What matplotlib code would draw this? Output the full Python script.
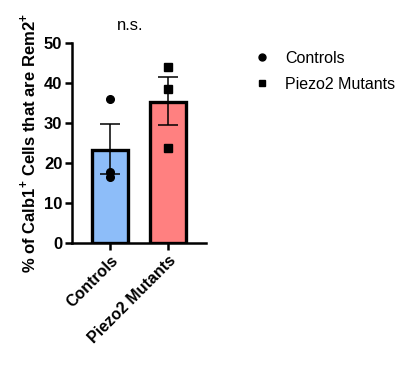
import numpy as np
import matplotlib
matplotlib.use('Agg')
import matplotlib.pyplot as plt
from matplotlib.lines import Line2D

plt.rcParams['font.family'] = ['Liberation Sans', 'DejaVu Sans']
plt.rcParams['mathtext.fontset'] = 'custom'
plt.rcParams['mathtext.rm'] = 'Liberation Sans:bold'
plt.rcParams['mathtext.bf'] = 'Liberation Sans:bold'

# Dados
grupos = ['Controls', 'Piezo2 Mutants']
medias = [23.3, 35.4]
erros_sup = [29.9, 41.7]
erros_inf = [17.3, 29.5]
pontos_controls = [36.2, 17.8, 16.5]
pontos_mutants = [44.2, 38.7, 23.8]
cores = ['#8DBDF9', '#FF8080']

fig = plt.figure(figsize=(4.14, 3.84), dpi=100)
ax = fig.add_axes([0.174, 0.366, 0.324, 0.521])

x = np.arange(len(grupos))
ax.bar(x, medias, width=0.62, color=cores, edgecolor='black', linewidth=2.4, zorder=2)

yerr = [np.array(medias) - np.array(erros_inf), np.array(erros_sup) - np.array(medias)]
ax.errorbar(x, medias, yerr=yerr, fmt='none', ecolor='black', elinewidth=1.1,
            capsize=7, capthick=1.1, zorder=3)

ax.plot([x[0]] * len(pontos_controls), pontos_controls, 'o', color='black', markersize=5.5, zorder=4)
ax.plot([x[1]] * len(pontos_mutants), pontos_mutants, 's', color='black', markersize=5.5, zorder=4)

ax.set_xlim(-0.66, 1.66)
ax.set_ylim(0, 50)
ax.set_yticks([0, 10, 20, 30, 40, 50])
ax.set_xticks(x)
ax.set_xticklabels(grupos, rotation=45, ha='right', rotation_mode='anchor',
                   fontweight='bold', fontsize=11.5)
for lbl in ax.get_yticklabels():
    lbl.set_fontweight('bold')
    lbl.set_fontsize(12)

for s in ['top', 'right']:
    ax.spines[s].set_visible(False)
for s in ['left', 'bottom']:
    ax.spines[s].set_linewidth(1.8)
ax.tick_params(axis='both', width=1.8, length=5, pad=2)

ax.set_ylabel(r'% of Calb1$^{+}$ Cells that are Rem2$^{+}$', fontweight='bold', fontsize=12,
              labelpad=4)

fig.text(130 / 414, 1 - 25 / 384, 'n.s.', ha='center', va='center', fontsize=12)

handles = [Line2D([], [], marker='o', color='black', linestyle='none', markersize=5),
           Line2D([], [], marker='s', color='black', linestyle='none', markersize=5)]
fig.legend(handles, grupos, loc='upper left', bbox_to_anchor=(254 / 414, 1 - 51 / 384),
           frameon=False, fontsize=11.5, handlelength=1.0, handletextpad=0.95,
           labelspacing=0.68, borderpad=0, borderaxespad=0)

fig.savefig('out.png', dpi=100)
